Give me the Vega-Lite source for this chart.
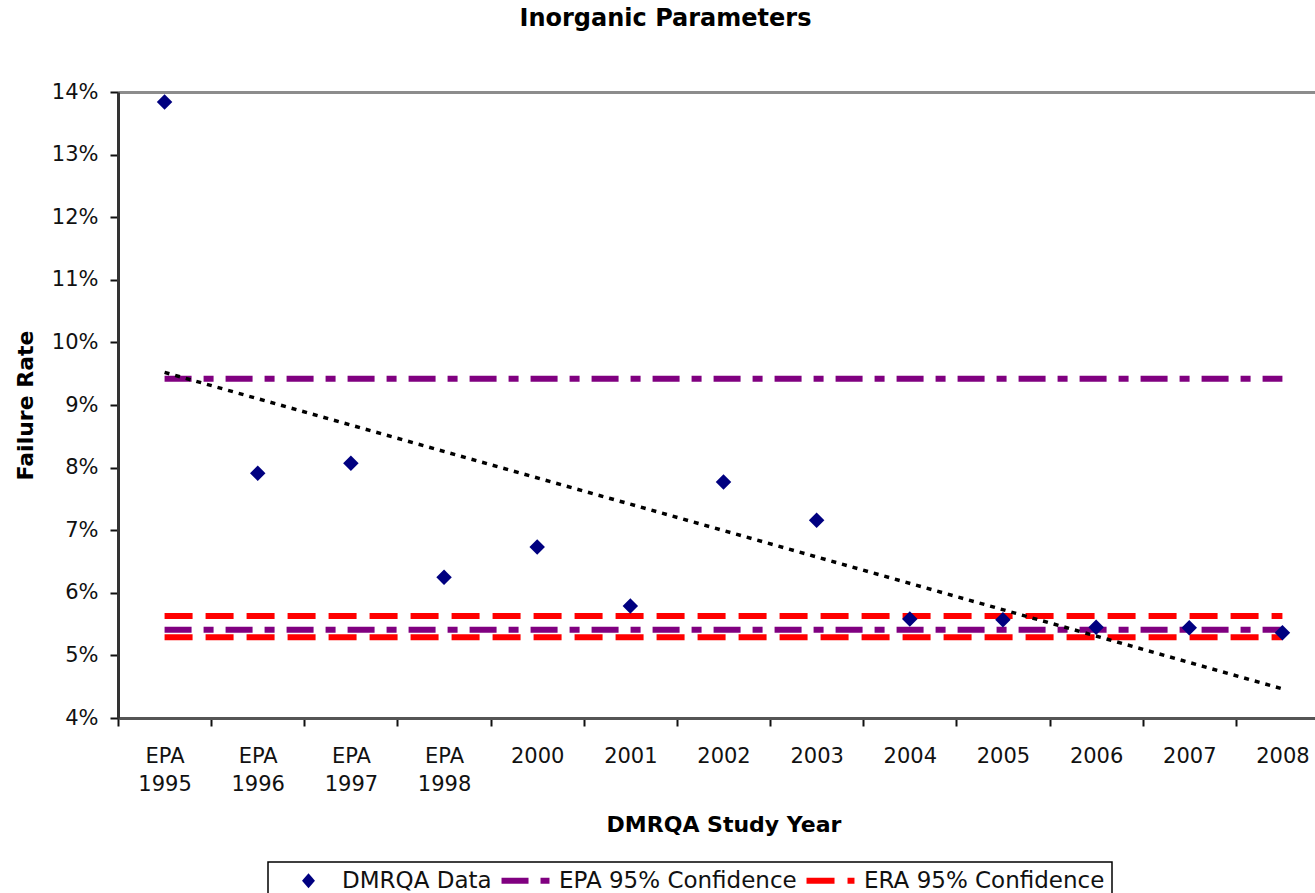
{
  "$schema": "https://vega.github.io/schema/vega-lite/v6.json",
  "autosize": {"type": "none"},
  "width": 1197,
  "height": 626,
  "padding": {"left": 118, "top": 92, "right": 0, "bottom": 175},
  "background": "white",
  "config": {
    "view": {"stroke": null},
    "font": "DejaVu Sans"
  },
  "title": {
    "text": "Inorganic Parameters",
    "font": "DejaVu Sans",
    "fontSize": 24,
    "fontWeight": "bold",
    "color": "#000",
    "anchor": "middle",
    "frame": "group",
    "baseline": "alphabetic",
    "dx": -51,
    "offset": 31
  },
  "datasets": {
    "pts": [
      {"year": "EPA 1995", "idx": 1, "series": "DMRQA Data", "rate": 0.1384},
      {"year": "EPA 1996", "idx": 2, "series": "DMRQA Data", "rate": 0.0791},
      {"year": "EPA 1997", "idx": 3, "series": "DMRQA Data", "rate": 0.0807},
      {"year": "EPA 1998", "idx": 4, "series": "DMRQA Data", "rate": 0.0625},
      {"year": "2000", "idx": 5, "series": "DMRQA Data", "rate": 0.0673},
      {"year": "2001", "idx": 6, "series": "DMRQA Data", "rate": 0.0579},
      {"year": "2002", "idx": 7, "series": "DMRQA Data", "rate": 0.0777},
      {"year": "2003", "idx": 8, "series": "DMRQA Data", "rate": 0.0716},
      {"year": "2004", "idx": 9, "series": "DMRQA Data", "rate": 0.0558},
      {"year": "2005", "idx": 10, "series": "DMRQA Data", "rate": 0.0557},
      {"year": "2006", "idx": 11, "series": "DMRQA Data", "rate": 0.0545},
      {"year": "2007", "idx": 12, "series": "DMRQA Data", "rate": 0.0544},
      {"year": "2008", "idx": 13, "series": "DMRQA Data", "rate": 0.0536}
    ],
    "conf": [
      {"year": "EPA 1995", "series": "EPA 95% Confidence", "bound": "upper", "rate": 0.0942},
      {"year": "2008", "series": "EPA 95% Confidence", "bound": "upper", "rate": 0.0942},
      {"year": "EPA 1995", "series": "EPA 95% Confidence", "bound": "lower", "rate": 0.0541},
      {"year": "2008", "series": "EPA 95% Confidence", "bound": "lower", "rate": 0.0541},
      {"year": "EPA 1995", "series": "ERA 95% Confidence", "bound": "upper", "rate": 0.0563},
      {"year": "2008", "series": "ERA 95% Confidence", "bound": "upper", "rate": 0.0563},
      {"year": "EPA 1995", "series": "ERA 95% Confidence", "bound": "lower", "rate": 0.0529},
      {"year": "2008", "series": "ERA 95% Confidence", "bound": "lower", "rate": 0.0529}
    ]
  },
  "encoding": {
    "x": {
      "field": "year",
      "type": "nominal",
      "scale": {
        "type": "band",
        "domain": ["EPA 1995", "EPA 1996", "EPA 1997", "EPA 1998", "2000", "2001", "2002", "2003", "2004", "2005", "2006", "2007", "2008"],
        "range": [0, 1211],
        "paddingInner": 0,
        "paddingOuter": 0
      },
      "axis": {
        "title": "DMRQA Study Year",
        "titleFont": "DejaVu Sans",
        "titleFontSize": 22,
        "titleFontWeight": "bold",
        "titleColor": "#000",
        "titlePadding": 20,
        "labelAngle": 0,
        "labelFont": "DejaVu Sans",
        "labelFontSize": 21,
        "labelColor": "#111",
        "labelLineHeight": 28,
        "labelPadding": 19,
        "labelExpr": "split(datum.label, ' ')",
        "tickBand": "extent",
        "tickSize": 8,
        "tickWidth": 2,
        "tickColor": "#111",
        "domainColor": "#555",
        "domainWidth": 3,
        "grid": false
      }
    },
    "y": {
      "field": "rate",
      "type": "quantitative",
      "scale": {"domain": [0.04, 0.14], "nice": false, "zero": false},
      "axis": {
        "title": "Failure Rate",
        "titleFont": "DejaVu Sans",
        "titleFontSize": 22,
        "titleFontWeight": "bold",
        "titleColor": "#000",
        "titlePadding": 14,
        "values": [0.04, 0.05, 0.06, 0.07, 0.08, 0.09, 0.10, 0.11, 0.12, 0.13, 0.14],
        "format": ".0%",
        "labelFont": "DejaVu Sans",
        "labelFontSize": 21,
        "labelColor": "#111",
        "labelPadding": 12,
        "tickSize": 8,
        "tickWidth": 2,
        "tickColor": "#111",
        "domainColor": "#333",
        "domainWidth": 3,
        "grid": true,
        "gridColor": "#8c8c8c",
        "gridWidth": 3,
        "gridOpacity": {"condition": {"test": "datum.value > 0.139", "value": 1}, "value": 0}
      }
    }
  },
  "layer": [
    {
      "data": {"name": "conf"},
      "mark": {"type": "line", "strokeWidth": 6, "strokeCap": "butt"},
      "encoding": {
        "detail": {"field": "bound"},
        "color": {
          "field": "series",
          "type": "nominal",
          "scale": {
            "domain": ["DMRQA Data", "EPA 95% Confidence", "ERA 95% Confidence"],
            "range": ["#000080", "#800080", "#FF0000"]
          },
          "legend": {
            "title": null,
            "orient": "none",
            "legendX": 150,
            "legendY": 770,
            "direction": "horizontal",
            "strokeColor": "#000",
            "padding": 7,
            "symbolSize": 2300,
            "symbolOffset": 22,
            "labelFont": "DejaVu Sans",
            "labelFontSize": 23,
            "labelColor": "#111",
            "labelLimit": 500,
            "labelOffset": 22,
            "columnPadding": -20,
            "symbolStrokeWidth": 6,
            "encode": {
              "legend": {"update": {"strokeWidth": {"value": 1.5}}},
              "symbols": {
                "update": {
                  "shape": {"signal": "datum.value === 'DMRQA Data' ? 'M-0.27,0L0,-0.31L0.27,0L0,0.31Z' : 'stroke'"},
                  "size": {"value": 2300},
                  "fill": {"signal": "datum.value === 'DMRQA Data' ? '#000080' : 'transparent'"},
                  "stroke": {"signal": "datum.value === 'DMRQA Data' ? '#000080' : (datum.value === 'EPA 95% Confidence' ? '#800080' : '#FF0000')"},
                  "strokeWidth": {"signal": "datum.value === 'DMRQA Data' ? 0 : 6"},
                  "strokeDash": {"signal": "datum.value === 'EPA 95% Confidence' ? [18, 10, 6, 20] : (datum.value === 'ERA 95% Confidence' ? [18, 12, 18, 10] : [1, 0])"},
                  "opacity": {"value": 1}
                }
              }
            }
          }
        },
        "strokeDash": {
          "field": "series",
          "type": "nominal",
          "scale": {
            "domain": ["DMRQA Data", "EPA 95% Confidence", "ERA 95% Confidence"],
            "range": [[1, 0], [27, 12, 10, 12], [28, 13]]
          },
          "legend": null
        }
      }
    },
    {
      "data": {"name": "pts"},
      "mark": {"type": "point", "shape": "diamond", "filled": true, "size": 240, "opacity": 1},
      "encoding": {
        "color": {"field": "series", "type": "nominal"}
      }
    },
    {
      "data": {"name": "pts"},
      "transform": [
        {"regression": "rate", "on": "idx"},
        {"lookup": "idx", "from": {"data": {"name": "pts"}, "key": "idx", "fields": ["year"]}}
      ],
      "mark": {"type": "line", "color": "#000", "strokeWidth": 3.5, "strokeDash": [5, 6], "strokeCap": "butt"},
      "encoding": {}
    }
  ]
}
